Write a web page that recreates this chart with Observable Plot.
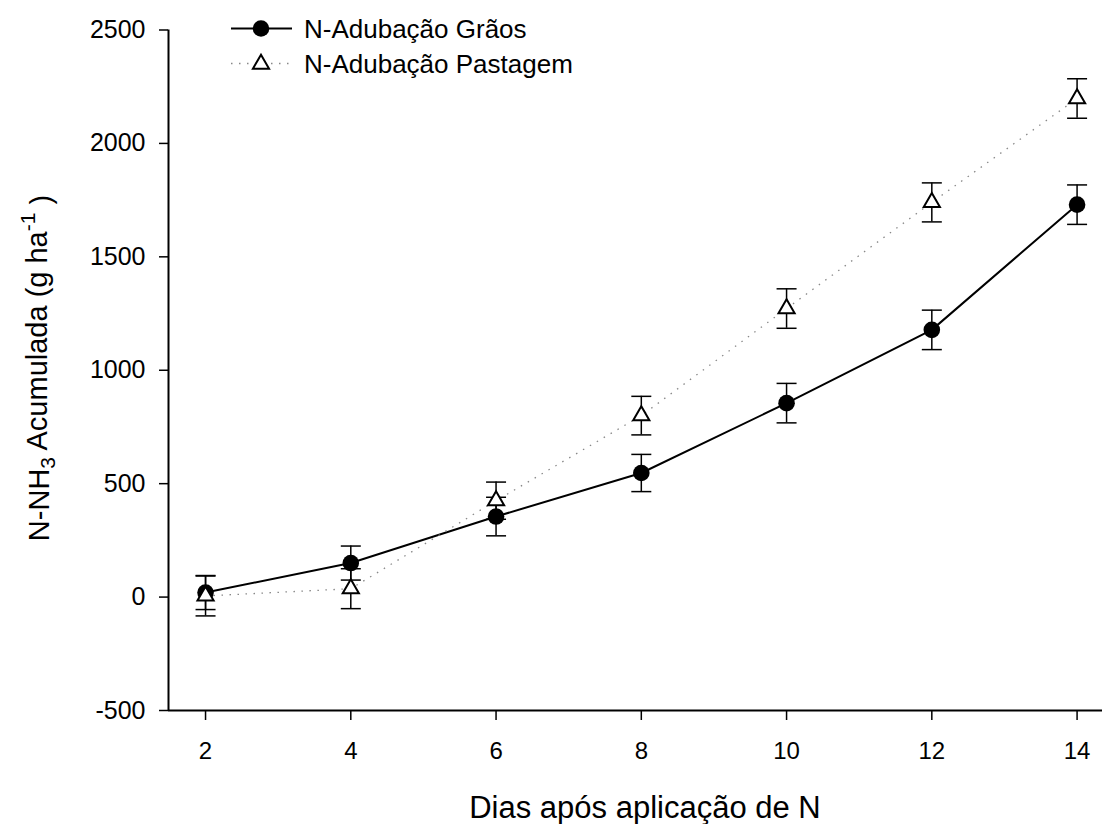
<!DOCTYPE html>
<html><head><meta charset="utf-8">
<script src="https://cdn.jsdelivr.net/npm/d3@7"></script>
<script src="https://cdn.jsdelivr.net/npm/@observablehq/plot@0.6"></script>
<style>body{margin:0;background:#fff} #chart{width:1102px;height:824px}</style>
</head><body><div id="chart"></div>
<script>
const days = [2, 4, 6, 8, 10, 12, 14];
const graos = [20, 150, 355, 547, 855, 1178, 1730];
const graosErr = [75, 75, 85, 82, 87, 87, 87];
const pastagem = [5, 37, 425, 800, 1272, 1740, 2198];
const pastagemErr = [88, 88, 82, 85, 87, 86, 87];
const seriesNames = ["N-Adubação Grãos", "N-Adubação Pastagem"];
const xTicks = [2, 4, 6, 8, 10, 12, 14];
const yTicks = [-500, 0, 500, 1000, 1500, 2000, 2500];
const xDomain = [1.49, 14.35];
const yDomain = [-500, 2500];
const xTitle = "Dias após aplicação de N";

const graosRows = days.map((d, i) => ({series: seriesNames[0], day: d, value: graos[i], err: graosErr[i]}));
const pastRows = days.map((d, i) => ({series: seriesNames[1], day: d, value: pastagem[i], err: pastagemErr[i]}));
const rows = graosRows.concat(pastRows);

const cap = {draw(ctx, size) { const r = Math.sqrt(size / Math.PI); ctx.moveTo(-r, 0); ctx.lineTo(r, 0); }};
const font = "'Liberation Sans', Arial, sans-serif";

const plot = Plot.plot({
  width: 1102, height: 824,
  marginTop: 29.5, marginBottom: 114, marginLeft: 168, marginRight: 0,
  style: {fontFamily: font, fontSize: "24px", color: "#000", background: "#fff", overflow: "visible"},
  x: {domain: xDomain, label: null},
  y: {domain: yDomain, label: null},
  marks: [
    Plot.axisX({ticks: xTicks, tickSize: 10, tickPadding: 21, fontSize: 24, label: null, strokeWidth: 1.5, tickFormat: d => String(d)}),
    Plot.axisY({ticks: yTicks, tickSize: 9, tickPadding: 14, fontSize: 25, label: null, strokeWidth: 1.5, tickFormat: d => String(d)}),
    Plot.ruleX([xDomain[0]], {stroke: "#000", strokeWidth: 2}),
    Plot.ruleY([yDomain[0]], {stroke: "#000", strokeWidth: 2}),
    Plot.line(graosRows, {x: "day", y: "value", stroke: "#000", strokeWidth: 2}),
    Plot.line(pastRows, {x: "day", y: "value", stroke: "#888", strokeWidth: 1.3, strokeDasharray: "1.5,6.5", strokeLinecap: "butt"}),
    Plot.ruleX(rows, {x: "day", y1: d => d.value - d.err, y2: d => d.value + d.err, stroke: "#000", strokeWidth: 1.5}),
    Plot.dot(rows, {x: "day", y: d => d.value + d.err, symbol: cap, r: 10, stroke: "#000", fill: "none", strokeWidth: 1.5}),
    Plot.dot(rows, {x: "day", y: d => d.value - d.err, symbol: cap, r: 10, stroke: "#000", fill: "none", strokeWidth: 1.5}),
    Plot.dot(graosRows, {x: "day", y: "value", r: 8.3, fill: "#000", stroke: "none", symbol: "circle"}),
    Plot.dot(pastRows, {x: "day", y: "value", r: 6, symbol: "triangle", fill: "#fff", stroke: "#000", strokeWidth: 2})
  ]
});

const svg = d3.select(plot);
// y axis title with subscript / superscript
const yt = svg.append("text")
  .attr("transform", "translate(49,368) rotate(-90)")
  .attr("text-anchor", "middle")
  .style("font-family", font).style("font-size", "29px").attr("fill", "#000");
yt.append("tspan").text("N-NH");
yt.append("tspan").attr("dy", "0.3em").style("font-size", "21px").text("3");
yt.append("tspan").attr("dy", "-0.3em").text(" Acumulada (g ha");
yt.append("tspan").attr("dy", "-0.55em").style("font-size", "21px").text("-1");
yt.append("tspan").attr("dy", "0.55em").text(" )");

// x axis title
svg.append("text").attr("x", 645).attr("y", 818).attr("text-anchor", "middle")
  .style("font-family", font).style("font-size", "31px").attr("fill", "#000").text(xTitle);

// legend
const lg = svg.append("g").style("font-family", font).style("font-size", "26px").attr("text-anchor", "start");
lg.append("line").attr("x1", 231).attr("x2", 292).attr("y1", 28.5).attr("y2", 28.5).attr("stroke", "#000").attr("stroke-width", 2);
lg.append("circle").attr("cx", 261).attr("cy", 28.5).attr("r", 8.3).attr("fill", "#000");
lg.append("text").attr("x", 304).attr("y", 28.5).attr("dy", "0.36em").attr("text-anchor", "start").attr("fill", "#000").text(seriesNames[0]);
lg.append("line").attr("x1", 231).attr("x2", 292).attr("y1", 63.5).attr("y2", 63.5).attr("stroke", "#888").attr("stroke-width", 1.3).attr("stroke-dasharray", "1.5,6.5");
lg.append("path").attr("transform", "translate(261,64)").attr("d", d3.symbol(d3.symbolTriangle, Math.PI * 36)()).attr("fill", "#fff").attr("stroke", "#000").attr("stroke-width", 2);
lg.append("text").attr("x", 304).attr("y", 63.5).attr("dy", "0.36em").attr("text-anchor", "start").attr("fill", "#000").text(seriesNames[1]);

document.getElementById("chart").appendChild(plot);
</script>
</body></html>
